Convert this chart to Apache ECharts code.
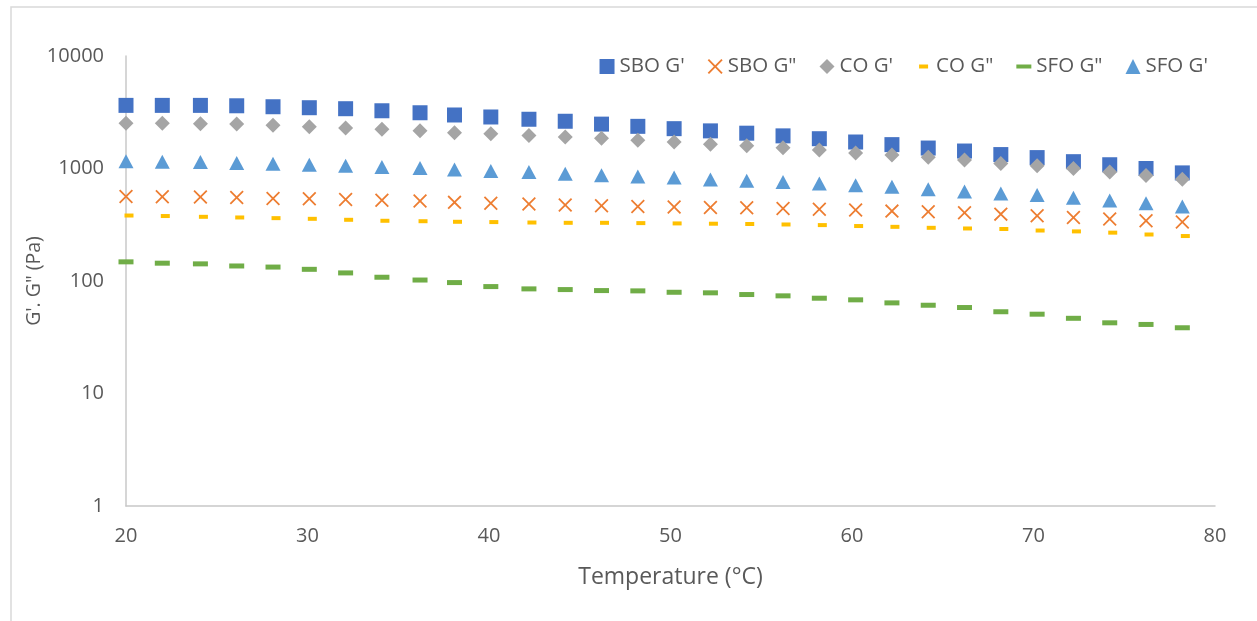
<!DOCTYPE html>
<html>
<head>
<meta charset="utf-8">
<script src="https://cdn.jsdelivr.net/npm/echarts@6/dist/echarts.min.js"></script>
<style>
  html, body { margin: 0; padding: 0; background: #fff; }
  #chart { width: 1257px; height: 621px; }
</style>
</head>
<body>
<div id="chart"></div>
<script>
// temperature (°C), one point every ~2 degrees
const temps = [20.0, 22.0, 24.1, 26.1, 28.1, 30.1, 32.1, 34.1, 36.2, 38.1,
  40.1, 42.2, 44.2, 46.2, 48.2, 50.2, 52.2, 54.2, 56.2, 58.2,
  60.2, 62.2, 64.2, 66.2, 68.2, 70.2, 72.2, 74.2, 76.2, 78.2];

// moduli in Pa
const sboG1 = [3640, 3640, 3640, 3610, 3540, 3470, 3400, 3260, 3130, 2990,
  2870, 2740, 2630, 2480, 2370, 2260, 2160, 2060, 1950, 1840,
  1720, 1630, 1520, 1430, 1330, 1250, 1150, 1080, 1000, 914];
const sboG2 = [564, 560, 557, 552, 541, 538, 530, 523, 515, 500,
  492, 483, 473, 466, 459, 454, 450, 447, 441, 434,
  428, 418, 412, 404, 393, 380, 367, 355, 343, 334];
const coG1 = [2520, 2520, 2500, 2480, 2420, 2350, 2290, 2230, 2160, 2080,
  2040, 1960, 1910, 1860, 1780, 1720, 1640, 1590, 1530, 1460,
  1370, 1320, 1260, 1190, 1110, 1060, 1000, 930, 865, 804];
const coG2 = [382, 378, 372, 367, 362, 357, 350, 343, 340, 336,
  334, 331, 329, 329, 327, 325, 323, 321, 318, 314,
  308, 303, 297, 293, 290, 281, 276, 269, 259, 251];
const sfoG2 = [148, 144, 142, 136, 133, 127, 118, 108, 102, 96.8,
  89.2, 85.1, 83.9, 82.2, 81.7, 79.4, 78.5, 75.8, 73.8, 70.3,
  68.0, 63.9, 60.9, 58.1, 53.3, 50.7, 46.6, 42.5, 41.1, 38.4];
const sfoG1 = [1160, 1150, 1140, 1120, 1100, 1080, 1060, 1030, 1010, 980,
  950, 930, 900, 870, 850, 830, 800, 780, 760, 735,
  710, 690, 655, 625, 600, 580, 550, 520, 490, 460];

const xTicks = [20, 30, 40, 50, 60, 70, 80];

const FONT = '"Open Sans", "Noto Sans", sans-serif';
const crossPath = 'path://M0,9L9,0L50,41L91,0L100,9L59,50L100,91L91,100L50,59L9,100L0,91L41,50Z';
const dashSmall = 'path://M0,0M15,15M3,5.5H12V9.5H3Z';
const dashLong = 'path://M0,0M15,15M0,5.5H15V9.5H0Z';

function pairs(ys) {
  return temps.map((t, i) => [t, ys[i]]);
}

const chart = echarts.init(document.getElementById('chart'));

chart.setOption({
  animation: false,
  backgroundColor: '#ffffff',
  graphic: [{
    type: 'rect',
    shape: { x: 11, y: 7, width: 1260, height: 630 },
    style: { fill: 'none', stroke: '#d9d9d9', lineWidth: 1.5 },
    silent: true
  }],
  legend: {
    right: 44,
    top: 51,
    itemWidth: 15,
    itemHeight: 15,
    itemGap: 23,
    textStyle: { fontFamily: FONT, fontSize: 20.5, color: '#595959' },
    data: [
      { name: "SBO G'", icon: 'rect' },
      { name: 'SBO G"', icon: crossPath },
      { name: "CO G'", icon: 'diamond' },
      { name: 'CO G"', icon: dashSmall },
      { name: 'SFO G"', icon: dashLong },
      { name: "SFO G'", icon: 'triangle' }
    ]
  },
  grid: { left: 126, right: 42, top: 56, bottom: 115 },
  xAxis: {
    type: 'value',
    min: xTicks[0],
    max: xTicks[xTicks.length - 1],
    interval: 10,
    name: 'Temperature (°C)',
    nameLocation: 'middle',
    nameGap: 60,
    nameTextStyle: { fontFamily: FONT, fontSize: 23, color: '#595959' },
    axisLine: { lineStyle: { color: '#c8c8c8', width: 1.5 } },
    axisTick: { show: false },
    splitLine: { show: false },
    axisLabel: { fontFamily: FONT, fontSize: 20, color: '#595959', margin: 20 }
  },
  yAxis: {
    type: 'log',
    logBase: 10,
    min: 1,
    max: 10000,
    name: 'G\'. G" (Pa)',
    nameLocation: 'middle',
    nameGap: 82,
    nameMoveOverlap: false,
    nameTextStyle: { fontFamily: FONT, fontSize: 19.5, color: '#595959' },
    axisLine: { show: true, lineStyle: { color: '#c8c8c8', width: 1.5 } },
    axisTick: { show: false },
    splitLine: { show: false },
    axisLabel: {
      fontFamily: FONT, fontSize: 20, color: '#595959', margin: 22,
      formatter: v => String(Math.round(v))
    }
  },
  series: [
    {
      name: "SBO G'", type: 'scatter', data: pairs(sboG1),
      symbol: 'rect', symbolSize: 15,
      itemStyle: { color: '#4472C4', opacity: 1 }
    },
    {
      name: 'SBO G"', type: 'scatter', data: pairs(sboG2),
      symbol: crossPath, symbolSize: 14,
      itemStyle: { color: '#ED7D31', opacity: 1 }
    },
    {
      name: "CO G'", type: 'scatter', data: pairs(coG1),
      symbol: 'diamond', symbolSize: [15, 15],
      itemStyle: { color: '#A5A5A5', opacity: 1 }
    },
    {
      name: 'CO G"', type: 'scatter', data: pairs(coG2),
      symbol: 'rect', symbolSize: [9, 4], symbolOffset: [3, 0],
      itemStyle: { color: '#FFC000', opacity: 1 }
    },
    {
      name: 'SFO G"', type: 'scatter', data: pairs(sfoG2),
      symbol: 'rect', symbolSize: [15, 5],
      itemStyle: { color: '#70AD47', opacity: 1 }
    },
    {
      name: "SFO G'", type: 'scatter', data: pairs(sfoG1),
      symbol: 'triangle', symbolSize: [15, 14],
      itemStyle: { color: '#5B9BD5', opacity: 1 }
    }
  ]
});
</script>
</body>
</html>
